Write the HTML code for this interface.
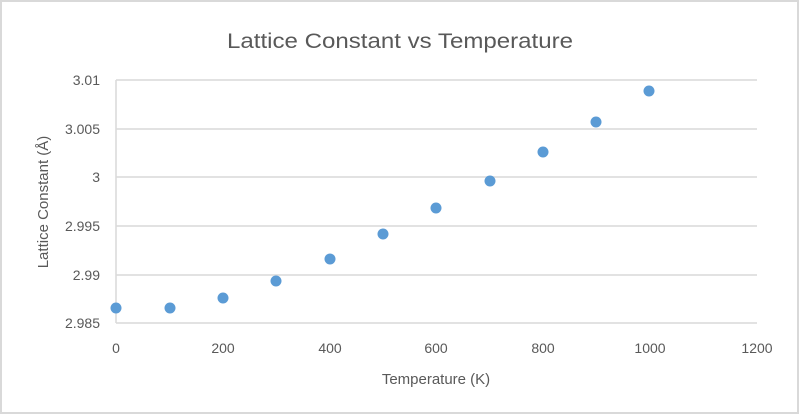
<!DOCTYPE html>
<html><head><style>body{margin:0;background:#fff}</style></head><body>
<svg width="800" height="415" xmlns="http://www.w3.org/2000/svg" font-family="Liberation Sans, sans-serif">
<rect x="1" y="1" width="797" height="412" fill="#fff" stroke="#d9d9d9" stroke-width="2"/>
<text x="400" y="48" font-size="21" fill="#595959" text-anchor="middle" textLength="346" lengthAdjust="spacingAndGlyphs">Lattice Constant vs Temperature</text>
<g stroke="#d9d9d9" stroke-width="1.5">
<line x1="116" y1="80" x2="757" y2="80"/>
<line x1="116" y1="129" x2="757" y2="129"/>
<line x1="116" y1="177" x2="757" y2="177"/>
<line x1="116" y1="226" x2="757" y2="226"/>
<line x1="116" y1="275" x2="757" y2="275"/>
<line x1="116" y1="323" x2="757" y2="323"/>
<line x1="116" y1="80" x2="116" y2="323"/>
</g>
<g font-size="14" fill="#595959" text-anchor="end">
<text x="100" y="85">3.01</text>
<text x="100" y="134">3.005</text>
<text x="100" y="182">3</text>
<text x="100" y="231">2.995</text>
<text x="100" y="280">2.99</text>
<text x="100" y="328">2.985</text>
</g>
<g font-size="14" fill="#595959" text-anchor="middle">
<text x="116" y="353">0</text>
<text x="223" y="353">200</text>
<text x="330" y="353">400</text>
<text x="436" y="353">600</text>
<text x="543" y="353">800</text>
<text x="650" y="353">1000</text>
<text x="757" y="353">1200</text>
</g>
<text x="436" y="384" font-size="15" fill="#595959" text-anchor="middle">Temperature (K)</text>
<text transform="translate(48,202) rotate(-90)" font-size="15" fill="#595959" text-anchor="middle">Lattice Constant (Å)</text>
<g fill="#5b9bd5">
<circle cx="116" cy="308" r="5.5"/>
<circle cx="170" cy="308" r="5.5"/>
<circle cx="223" cy="298" r="5.5"/>
<circle cx="276" cy="281" r="5.5"/>
<circle cx="330" cy="259" r="5.5"/>
<circle cx="383" cy="234" r="5.5"/>
<circle cx="436" cy="208" r="5.5"/>
<circle cx="490" cy="181" r="5.5"/>
<circle cx="543" cy="152" r="5.5"/>
<circle cx="596" cy="122" r="5.5"/>
<circle cx="649" cy="91" r="5.5"/>
</g>
</svg>
</body></html>
